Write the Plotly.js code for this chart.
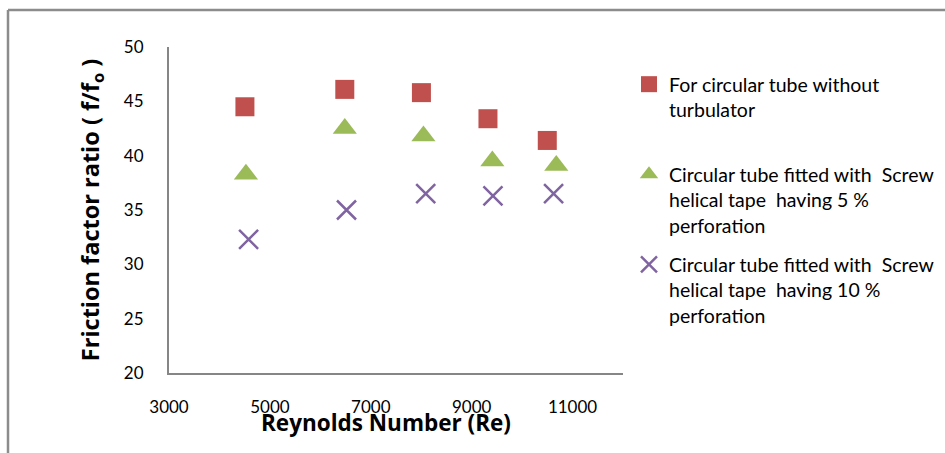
<!DOCTYPE html>
<html>
<head>
<meta charset="utf-8">
<script src="https://cdn.plot.ly/plotly-3.0.1.min.js"></script>
<style>html,body{margin:0;padding:0;background:#fff;}#chart{width:945px;height:453px;}</style>
</head>
<body>
<div id="chart"></div>
<script>
// Data
const reNoTurb = [4505, 6485, 8004, 9323, 10499];
const ratioNoTurb = [44.5, 46.1, 45.8, 43.4, 41.4];
const rePerf5 = [4525, 6485, 8044, 9410, 10677];
const ratioPerf5 = [38.3, 42.5, 41.8, 39.5, 39.1];
const rePerf10 = [4578, 6519, 8089, 9422, 10624];
const ratioPerf10 = [32.3, 35.0, 36.5, 36.3, 36.5];
const seriesNames = [
  "For circular tube without<br>turbulator<br> ",
  "Circular tube fitted with  Screw<br>helical tape  having 5 %<br>perforation",
  "Circular tube fitted with  Screw<br>helical tape  having 10 %<br>perforation"
];
const xTicks = [3000, 5000, 7000, 9000, 11000];
const yTicks = [20, 25, 30, 35, 40, 45, 50];

const W = 945, H = 453;
const mL = 169, mR = 945 - 623, mT = 47, mB = 453 - 373;
const pw = W - mL - mR, ph = H - mT - mB;
const px = v => (v - mL) / pw;
const py = v => (H - mB - v) / ph;

const txtFont = "Lato, 'Open Sans', sans-serif";

const traces = [
  {x: reNoTurb, y: ratioNoTurb, name: seriesNames[0], mode: 'markers', type: 'scatter',
   marker: {symbol: 'square', size: 19, color: '#C0504D'}, legendgroup: 'a'},
  {x: rePerf5, y: ratioPerf5, name: seriesNames[1], mode: 'markers', type: 'scatter',
   marker: {symbol: 'triangle-up', size: 21, color: '#9BBB59'}, legendgroup: 'b'},
  {x: rePerf10, y: ratioPerf10, name: seriesNames[2], mode: 'markers', type: 'scatter',
   marker: {symbol: 'x-thin', size: 19, color: '#8064A2', line: {width: 2.5, color: '#8064A2'}}, legendgroup: 'c'}
];

const layout = {
  width: W, height: H,
  margin: {l: mL, r: mR, t: mT, b: mB, pad: 0, autoexpand: false},
  paper_bgcolor: '#fff', plot_bgcolor: '#fff',
  showlegend: true,
  legend: {x: px(629), y: py(65), xanchor: 'left', yanchor: 'top',
    font: {family: txtFont, size: 19.5, color: '#000'},
    tracegroupgap: 11, valign: 'top', itemwidth: 30, bgcolor: 'rgba(0,0,0,0)'},
  xaxis: {range: [3000, 12000], tickvals: xTicks, ticktext: xTicks.map(String),
    showgrid: false, zeroline: false, showline: true, linecolor: '#868686', linewidth: 2,
    ticks: '', ticklabelstandoff: 18, automargin: false,
    tickfont: {family: txtFont, size: 17, color: '#000'}},
  yaxis: {range: [20, 50], tickvals: yTicks, ticktext: yTicks.map(String),
    showgrid: false, zeroline: false, showline: true, linecolor: '#868686', linewidth: 2,
    ticks: '', ticklabelstandoff: 20, automargin: false,
    tickfont: {family: txtFont, size: 17, color: '#000'},
    title: {text: 'Friction factor ratio ( f/f<sub>o</sub> )', standoff: 18,
      font: {family: "'Open Sans', sans-serif", size: 23.5, color: '#000', weight: 'bold'}}},
  annotations: [
    {text: '<b>Reynolds Number (Re)</b>', xref: 'paper', yref: 'paper',
     x: px(386), y: py(422), xanchor: 'center', yanchor: 'middle', showarrow: false,
     font: {family: "'Open Sans', sans-serif", size: 22.5, color: '#000'}}
  ],
  shapes: [
    {type: 'line', xref: 'paper', yref: 'paper', x0: px(8), x1: px(960), y0: py(10), y1: py(10),
     line: {color: '#8C8C8C', width: 2.5}},
    {type: 'line', xref: 'paper', yref: 'paper', x0: px(8), x1: px(8), y0: py(10), y1: py(470),
     line: {color: '#8C8C8C', width: 2.5}}
  ]
};

Plotly.newPlot('chart', traces, layout, {displayModeBar: false, staticPlot: true});
</script>
</body>
</html>
